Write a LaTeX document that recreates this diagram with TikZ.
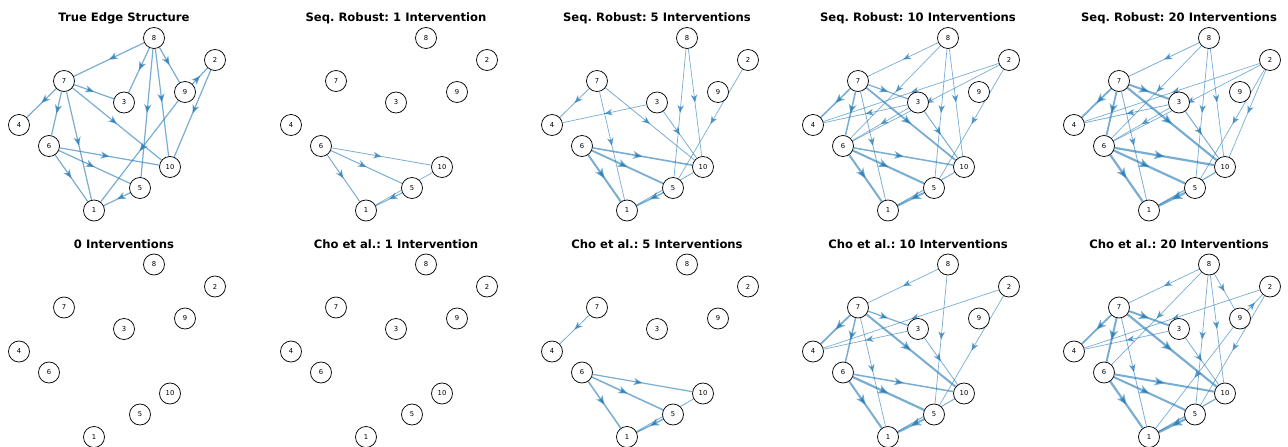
\documentclass[tikz,border=0pt]{standalone}
\usepackage{fontspec}
\setmainfont{DejaVu Sans}
\usepackage{xcolor}
\usepackage{tikz}
\usetikzlibrary{arrows.meta, decorations.markings, backgrounds}
\definecolor{edgeblue}{RGB}{31,119,180}
\frenchspacing

% the ten variables of one panel: prefix, x shift, y shift
\newcommand{\dagnodes}[3]{%
  \foreach \v/\x/\y in {1/94/210.5, 2/215/60, 3/124/102.5, 4/19/125, 5/140/188,
                        6/49/146, 7/64/81, 8/154/38, 9/185/92, 10/170/167}
    \node[vertex] (#1\v) at (#2+\x, #3+\y) {\v};
}
% directed edges of one panel: prefix, list of source/target/width
\newcommand{\dagedges}[2]{%
  \begin{scope}[on background layer]
    \foreach \a/\b/\w in {#2}
      \draw[dagedge, line width=\w pt] (#1\a) -- (#1\b);
  \end{scope}
}

\begin{document}
\begin{tikzpicture}[
        x=1pt, y=-1pt,
        vertex/.style={circle, draw, line width=0.75pt, fill=white, minimum size=21pt, inner sep=0pt, font=\fontsize{6.8}{7}\selectfont},
        dagedge/.style={draw=edgeblue, opacity=0.6, postaction={decorate},
            decoration={markings, mark=at position 0.5 with {\arrow{Stealth[length=7pt 1.5, width=5.5pt 1.5, inset=2.5pt]}}}},
        paneltitle/.style={anchor=base, font=\fontsize{11.6}{13}\selectfont\bfseries}
    ]
        \useasboundingbox (0,0) rectangle (1288,447);

        % top row
        \node[paneltitle] (truetitle) at (124,21.5) {True Edge Structure};
        \node[paneltitle] (satitle) at (396,21.5) {Seq. Robust: 1 Intervention};
        \node[paneltitle] (sbtitle) at (657,21.5) {Seq. Robust: 5 Interventions};
        \node[paneltitle] (sctitle) at (918,21.5) {Seq. Robust: 10 Interventions};
        \node[paneltitle] (sdtitle) at (1179,21.5) {Seq. Robust: 20 Interventions};

        \dagnodes{true}{0}{0}
        \dagnodes{sa}{272}{0}
        \dagnodes{sb}{533}{0}
        \dagnodes{sc}{794}{0}
        \dagnodes{sd}{1055}{0}

        \dagedges{true}{8/7/1.2, 8/3/1.2, 8/9/1.2, 8/5/1.2, 8/10/1.2, 7/4/1.2, 7/3/1.2, 7/6/1.2, 7/1/1.2,
            7/10/1.2, 6/10/1.2, 6/5/1.2, 6/1/1.2, 5/1/1.2, 2/10/1.2, 9/2/1.2, 9/1/1.2}
        \dagedges{sa}{6/1/1, 6/5/1, 6/10/0.8, 5/1/1, 10/1/0.7}
        \dagedges{sb}{7/4/0.8, 3/4/0.7, 7/1/0.7, 7/10/0.8, 8/5/0.7, 8/10/0.7, 3/10/0.8, 2/5/0.7,
            6/10/1.6, 6/5/1.8, 6/1/2, 5/1/1.5, 10/1/0.8}
        \dagedges{sc}{8/7/0.7, 8/6/0.7, 2/4/0.7, 2/6/0.7, 3/4/0.7, 3/6/0.7, 7/4/1.5, 7/3/1.2, 7/6/1.5,
            7/1/0.8, 7/10/1.8, 8/5/0.7, 8/10/0.7, 3/10/1, 2/5/0.7, 6/10/1.5, 6/5/2, 6/1/2, 5/1/1.8, 10/1/1}
        \dagedges{sd}{8/7/0.8, 8/6/0.7, 2/4/0.7, 2/6/0.7, 2/10/0.7, 2/5/0.7, 3/4/0.8, 3/6/0.7, 7/4/1.8,
            7/3/2, 7/6/1.8, 7/1/0.8, 7/10/2.2, 8/5/0.7, 8/10/0.7, 3/10/1, 6/10/2.2, 6/5/2.2, 6/1/2.2,
            5/1/2.2, 10/1/1.2}

        % bottom row
        \node[paneltitle] (zerotitle) at (124,248) {0 Interventions};
        \node[paneltitle] (catitle) at (396,248) {Cho et al.: 1 Intervention};
        \node[paneltitle] (cbtitle) at (657,248) {Cho et al.: 5 Interventions};
        \node[paneltitle] (cctitle) at (918,248) {Cho et al.: 10 Interventions};
        \node[paneltitle] (cdtitle) at (1179,248) {Cho et al.: 20 Interventions};

        \dagnodes{zero}{0}{226.5}
        \dagnodes{ca}{272}{226.5}
        \dagnodes{cb}{533}{226.5}
        \dagnodes{cc}{794}{226.5}
        \dagnodes{cd}{1055}{226.5}

        \dagedges{cb}{7/4/0.8, 6/10/1.2, 6/5/1.5, 6/1/1.5, 5/1/1.5, 10/1/0.8}
        \dagedges{cc}{8/7/0.7, 8/5/0.7, 2/4/0.7, 2/5/0.7, 7/4/1.8, 3/4/0.7, 7/3/1.2, 7/6/1.5, 7/1/0.7,
            7/10/2, 3/10/0.8, 6/10/1.5, 6/5/2.2, 6/1/2, 5/1/2, 10/1/1}
        \dagedges{cd}{8/7/0.7, 8/6/0.7, 8/5/0.7, 8/10/0.7, 8/9/0.7, 9/2/0.7, 9/1/0.7, 2/4/0.7, 2/5/0.7,
            7/4/1.8, 3/4/0.7, 7/3/2, 7/6/2, 7/1/0.8, 7/10/2.2, 3/10/0.8, 6/10/2, 6/5/2, 6/1/2.2,
            5/1/2.2, 10/1/1.2}
    \end{tikzpicture}
\end{document}
